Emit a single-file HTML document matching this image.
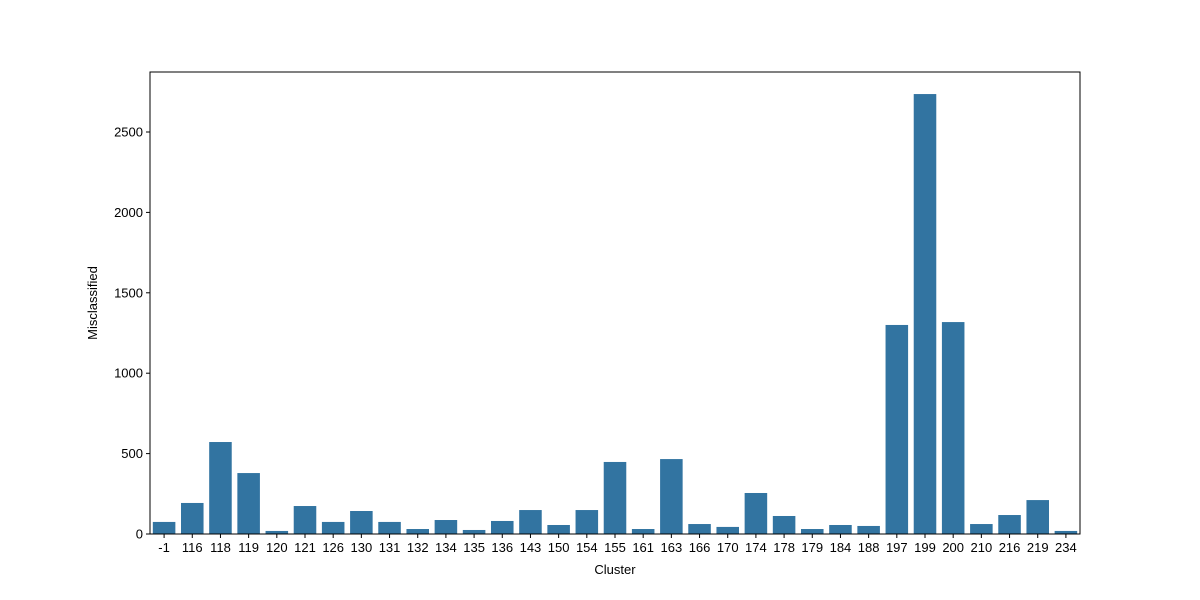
<!DOCTYPE html>
<html><head><meta charset="utf-8"><style>
body{margin:0;background:#fff;}
svg{display:block;font-family:"Liberation Sans","DejaVu Sans",sans-serif;}
</style></head><body>
<svg id="chart" width="1200" height="600"></svg>
<script>
const categories=["-1","116","118","119","120","121","126","130","131","132","134","135","136","143","150","154","155","161","163","166","170","174","178","179","184","188","197","199","200","210","216","219","234"];
const values=[75,193,572,379,19,174,75,143,75,31,87,25,81,149,56,149,448,31,466,62,44,255,112,31,56,50,1300,2736,1318,62,118,211,19];
const yTicks=[0,500,1000,1500,2000,2500];
const NS="http://www.w3.org/2000/svg";
const svg=document.getElementById('chart');
const L=150,R=1080,T=72,B=534;
const yMax=2500*(B-T)/402;
const y=v=>B-(v/yMax)*(B-T);
const step=(R-L)/categories.length;
const x=i=>L+step*i;
function mk(tag,attrs,txt){const e=document.createElementNS(NS,tag);for(const k in attrs)e.setAttribute(k,attrs[k]);if(txt!==undefined)e.textContent=txt;svg.appendChild(e);return e;}
values.forEach((v,i)=>{
  const r=mk('rect',{x:x(i)+step*0.1,y:y(v),width:step*0.8,height:B-y(v),fill:'#3274a1'});
  
  
});
mk('rect',{x:L,y:T,width:R-L,height:B-T,fill:'none',stroke:'#000','stroke-width':1});
categories.forEach((c,i)=>{
  const cx=x(i)+step/2;
  mk('line',{x1:cx,x2:cx,y1:B,y2:B+4,stroke:'#000'});
  const t=mk('text',{x:cx,y:B+18,'text-anchor':'middle','font-size':13},c);
  
  
});
yTicks.forEach(v=>{
  mk('line',{x1:L-4,x2:L,y1:y(v),y2:y(v),stroke:'#000'});
  const t=mk('text',{x:L-7,y:y(v)+4.5,'text-anchor':'end','font-size':13},v);
  
  
});
const xt=mk('text',{x:(L+R)/2,y:574,'text-anchor':'middle','font-size':13},'Cluster');

const yt=mk('text',{x:97,y:(T+B)/2,'text-anchor':'middle','font-size':13,transform:`rotate(-90 97 ${(T+B)/2})`},'Misclassified');

</script>
</body></html>
